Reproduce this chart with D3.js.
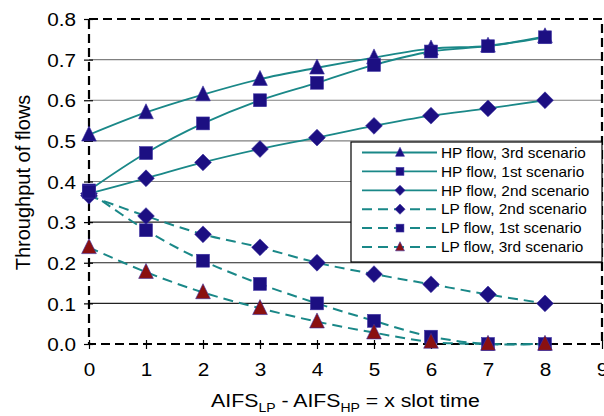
<!DOCTYPE html>
<html>
<head>
<meta charset="utf-8">
<script src="https://cdn.jsdelivr.net/npm/d3@7/dist/d3.min.js"></script>
<style>
  html, body { margin: 0; padding: 0; background: #fff; }
  svg { display: block; font-family: "Liberation Sans", Arial, sans-serif; }
</style>
</head>
<body>
<svg id="chart" width="604" height="416"></svg>
<script>
// Slot-time difference on the x axis
const slots = [0, 1, 2, 3, 4, 5, 6, 7, 8];
const xTicks = [0, 1, 2, 3, 4, 5, 6, 7, 8, 9];
const yTicks = [0, 0.1, 0.2, 0.3, 0.4, 0.5, 0.6, 0.7, 0.8];

// Throughput series
const hp3 = [0.515, 0.570, 0.614, 0.652, 0.680, 0.705, 0.727, 0.734, 0.757];
const hp1 = [0.378, 0.470, 0.543, 0.600, 0.643, 0.687, 0.720, 0.733, 0.755];
const hp2 = [0.370, 0.408, 0.447, 0.480, 0.508, 0.537, 0.562, 0.580, 0.600];
const lp2 = [0.365, 0.315, 0.270, 0.238, 0.200, 0.172, 0.147, 0.122, 0.100];
const lp1 = [0.375, 0.280, 0.205, 0.148, 0.100, 0.057, 0.018, 0.000, 0.000];
const lp3 = [0.238, 0.177, 0.127, 0.088, 0.055, 0.028, 0.005, 0.000, 0.000];

const seriesNames = [
  "HP flow, 3rd scenario", "HP flow, 1st scenario", "HP flow, 2nd scenario",
  "LP flow, 2nd scenario", "LP flow, 1st scenario", "LP flow, 3rd scenario"
];

const NAVY = "#1c0f82", RED = "#8a1010", TEAL = "#1a8888";
const SX = 1.12; // wide glyph proportion used for axis labels

const series = [
  { name: seriesNames[0], values: hp3, shape: "tri", fill: NAVY, dashed: false },
  { name: seriesNames[1], values: hp1, shape: "sq", fill: NAVY, dashed: false },
  { name: seriesNames[2], values: hp2, shape: "dia", fill: NAVY, dashed: false },
  { name: seriesNames[3], values: lp2, shape: "dia", fill: NAVY, dashed: true },
  { name: seriesNames[4], values: lp1, shape: "sq", fill: NAVY, dashed: true },
  { name: seriesNames[5], values: lp3, shape: "tri", fill: RED, dashed: true }
];

const svg = d3.select("#chart");
const L = 89, R = 602, T = 19, B = 344;

const x = d3.scaleLinear().domain([0, 9]).range([L, R]);
const y = d3.scaleLinear().domain([0, 0.8]).range([B, T]);

// Horizontal gridlines
svg.append("g").selectAll("line").data(yTicks.filter(v => v > 0 && v < 0.8)).join("line")
  .attr("x1", L).attr("x2", R)
  .attr("y1", d => y(d)).attr("y2", d => y(d))
  .attr("stroke", d => d < 0.35 ? "#222" : "#808080").attr("stroke-width", 1.2);

// Axes
const yAxis = svg.append("g").attr("transform", `translate(${L},0)`)
  .call(d3.axisLeft(y).tickValues(yTicks).tickFormat(d3.format(".1f")).tickSize(5).tickSizeOuter(0));
const xAxis = svg.append("g").attr("transform", `translate(0,${B})`)
  .call(d3.axisBottom(x).tickValues(xTicks).tickFormat(d3.format("d")).tickSize(5).tickSizeOuter(0));
[yAxis, xAxis].forEach(g => {
  g.select(".domain").remove();
  g.selectAll("text").attr("font-size", 18.5).attr("fill", "#000")
    .attr("font-family", "Liberation Sans, Arial, sans-serif")
    .attr("transform", `scale(${SX},1)`);
});
yAxis.selectAll("line").attr("x1", 4).attr("x2", -5).attr("stroke", "#000").attr("stroke-width", 1.2);
xAxis.selectAll("line").attr("y1", -4).attr("y2", 5).attr("stroke", "#000").attr("stroke-width", 1.2);
yAxis.selectAll("text").attr("x", -13 / SX).attr("dy", "0.36em");
xAxis.selectAll("text").attr("y", 19).attr("dy", "0.71em");

// Dashed plot frame
svg.append("rect").attr("x", L).attr("y", T).attr("width", R - L).attr("height", B - T)
  .attr("fill", "none").attr("stroke", "#000").attr("stroke-width", 2.2)
  .attr("stroke-dasharray", "9,5");

// Curves
const line = d3.line().x((d, i) => x(slots[i])).y(d => y(d)).curve(d3.curveCatmullRom.alpha(0.5));
const plot = svg.append("g");
series.forEach(s => {
  plot.append("path").attr("d", line(s.values))
    .attr("fill", "none").attr("stroke", TEAL)
    .attr("stroke-width", s.dashed ? 2 : 1.8)
    .attr("stroke-dasharray", s.dashed ? "10,6" : null);
});

function marker(g, shape, cx, cy, fill, sz) {
  let p;
  if (shape === "tri") {
    const h = sz * 1.0, w = sz * 1.05;
    p = g.append("path").attr("d", `M${cx},${cy - h * 0.62}L${cx + w / 2},${cy + h * 0.45}L${cx - w / 2},${cy + h * 0.45}Z`);
  } else if (shape === "sq") {
    const s = sz * 0.92;
    p = g.append("rect").attr("x", cx - s / 2).attr("y", cy - s / 2).attr("width", s).attr("height", s);
  } else {
    const r = sz * 0.6;
    p = g.append("path").attr("d", `M${cx},${cy - r}L${cx + r},${cy}L${cx},${cy + r}L${cx - r},${cy}Z`);
  }
  p.attr("fill", fill).attr("stroke", "#3a2fa0").attr("stroke-width", 0.6);
}

series.forEach(s => {
  s.values.forEach((v, i) => marker(plot, s.shape, x(slots[i]), y(v), s.fill, 14));
});

// Legend
const lg = svg.append("g");
const lx = 351, ly = 142, lw = 251, lh = 120;
lg.append("rect").attr("x", lx).attr("y", ly).attr("width", lw).attr("height", lh)
  .attr("fill", "#fff").attr("stroke", "#000").attr("stroke-width", 1.2);
series.forEach((s, i) => {
  const cy = ly + 10.5 + i * 18.9;
  lg.append("line").attr("x1", lx + 11).attr("x2", lx + 86).attr("y1", cy).attr("y2", cy)
    .attr("stroke", TEAL).attr("stroke-width", s.dashed ? 2 : 1.8)
    .attr("stroke-dasharray", s.dashed ? "10,6" : null);
  marker(lg, s.shape, lx + 49, cy, s.fill, 8.5);
  lg.append("text").attr("transform", `translate(${lx + 90},${cy}) scale(1.06,1)`)
    .attr("dy", "0.36em").attr("font-size", 14.5).attr("fill", "#000").text(s.name);
});

// Axis titles
svg.append("text").attr("transform", `translate(30,${(T + B) / 2 + 1}) rotate(-90)`)
  .attr("text-anchor", "middle").attr("font-size", 20).attr("fill", "#000")
  .text("Throughput of flows");

const xt = svg.append("text").attr("transform", `translate(${(L + R) / 2},407) scale(${SX},1)`)
  .attr("text-anchor", "middle").attr("font-size", 19).attr("fill", "#000");
xt.append("tspan").text("AIFS");
xt.append("tspan").attr("font-size", 12.5).attr("dy", 5).text("LP");
xt.append("tspan").attr("dy", -5).text(" - AIFS");
xt.append("tspan").attr("font-size", 12.5).attr("dy", 5).text("HP");
xt.append("tspan").attr("dy", -5).text(" = x slot time");
</script>
</body>
</html>
